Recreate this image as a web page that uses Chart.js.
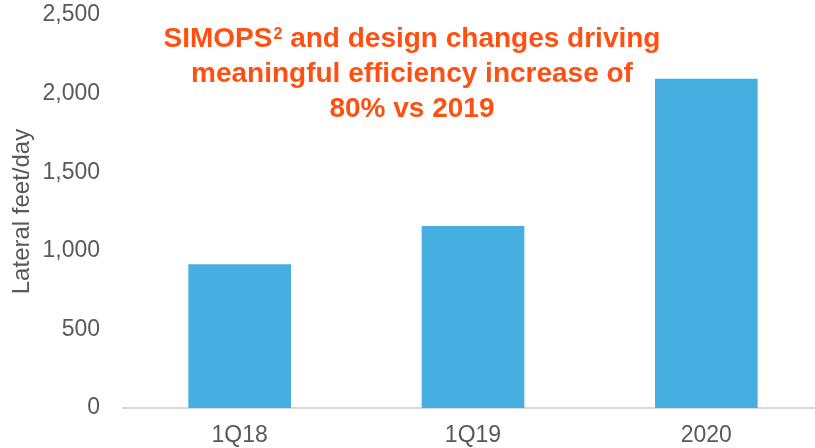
<!doctype html>
<html lang="en">
  <head>
    <meta charset="UTF-8" />
    <title>Lateral feet/day</title>
    <script src="https://cdn.jsdelivr.net/npm/chart.js"></script>
    <style>
      html, body { margin: 0; padding: 0; background: #fff; overflow: hidden; }
      .janela { position: relative; width: 831px; height: 448px; }
      .nota {
        position: absolute;
        left: 162px;
        top: 20px;
        width: 500px;
        text-align: center;
        font-family: "Liberation Sans", Arial, sans-serif;
        font-weight: bold;
        font-size: 28px;
        line-height: 35px;
        color: #ff5012;
      }
      .nota sup { font-size: 16px; line-height: 0; vertical-align: 8px; margin-left: 1px; }
    </style>
  </head>
  <body>
    <div class="janela">
      <canvas id="graficoLateral" width="831" height="448"></canvas>
      <div class="nota">SIMOPS<sup>2</sup> and design changes driving meaningful efficiency increase of 80% vs 2019</div>
    </div>

    <script>
      const periodos = ["1Q18", "1Q19", "2020"];
      const pesPorDia = [915, 1157, 2095];
      const ticksY = [0, 500, 1000, 1500, 2000, 2500];

      const fonte = "'Liberation Sans', Arial, sans-serif";
      const cinza = "#595959";

      const config = {
        type: "bar",
        data: {
          labels: periodos,
          datasets: [
            {
              label: "Lateral feet/day",
              data: pesPorDia,
              backgroundColor: "#46aee1",
              borderWidth: 0,
              barPercentage: 0.44,
              categoryPercentage: 1,
            },
          ],
        },
        options: {
          responsive: false,
          animation: false,
          layout: { padding: { top: 15, left: 0, right: 8, bottom: 0 } },
          plugins: {
            legend: { display: false },
            tooltip: { enabled: false },
          },
          scales: {
            x: {
              grid: { display: false, drawTicks: false },
              border: { display: true, color: "#d9d9d9", width: 2 },
              ticks: {
                color: cinza,
                font: { family: fonte, size: 23 },
                padding: 14,
              },
              afterFit: (escala) => {
                escala.height = 40;
                escala.paddingLeft = 0;
                escala.paddingRight = 0;
              },
            },
            y: {
              min: 0,
              max: ticksY[ticksY.length - 1],
              afterBuildTicks: (escala) => {
                escala.ticks = ticksY.map((v) => ({ value: v }));
              },
              grid: { display: false, drawTicks: false },
              border: { display: false },
              ticks: {
                color: cinza,
                font: { family: fonte, size: 23 },
                padding: 23,
                callback: (v) => v.toLocaleString("en-US"),
              },
              title: {
                display: true,
                text: "Lateral feet/day",
                color: cinza,
                font: { family: fonte, size: 24 },
                padding: { top: 8, bottom: 8 },
              },
              afterFit: (escala) => {
                escala.width = 123;
                escala.paddingTop = 0;
                escala.paddingBottom = 0;
              },
            },
          },
        },
      };

      new Chart(document.getElementById("graficoLateral"), config);
    </script>
  </body>
</html>
